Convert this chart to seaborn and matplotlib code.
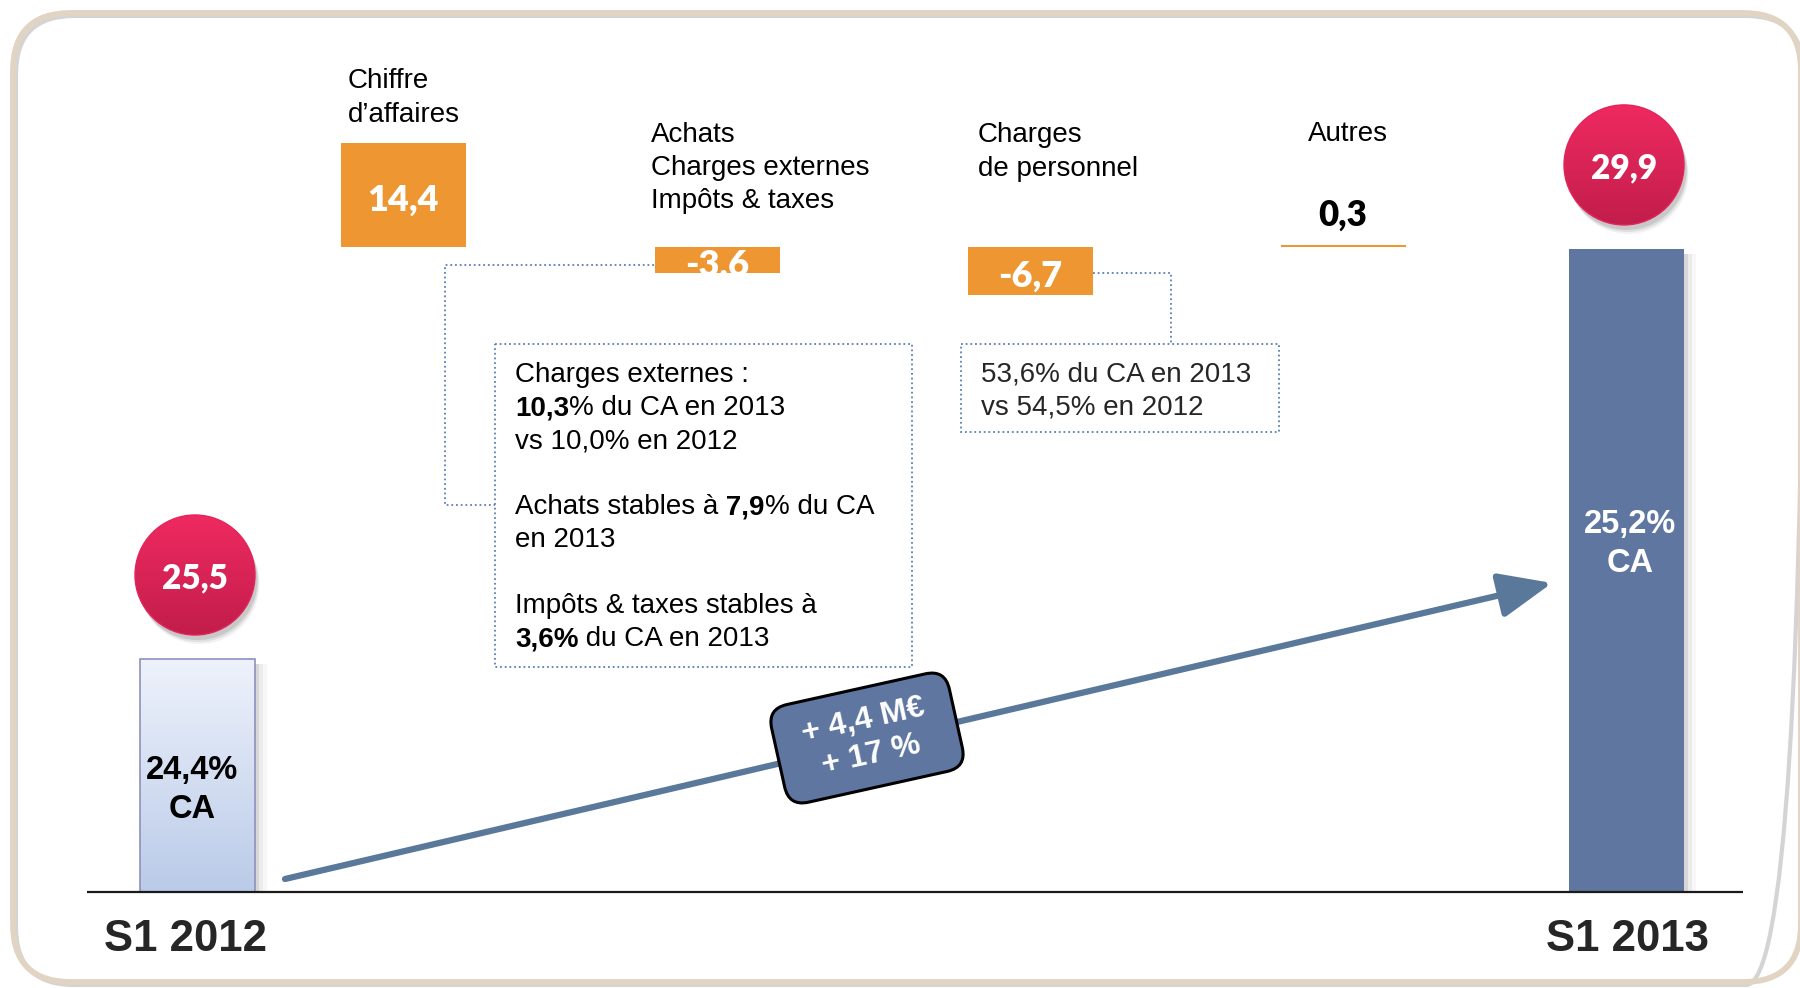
import numpy as np
import pandas as pd
import matplotlib
matplotlib.use("Agg")
import matplotlib.pyplot as plt
import seaborn as sns
from matplotlib.patches import FancyBboxPatch, Circle, Rectangle
from matplotlib.colors import LinearSegmentedColormap
from matplotlib.transforms import Affine2D

# ---------------- data ----------------
periods = ["S1 2012", "S1 2013"]
ebitda = [25.5, 29.9]
ebitda_margin = ["24,4%\nCA", "25,2%\nCA"]
bridge_labels = ["Chiffre\nd’affaires", "Achats\nCharges externes\nImpôts & taxes",
                 "Charges\nde personnel", "Autres"]
bridge_values = [14.4, -3.6, -6.7, 0.3]
growth_text = ["+ 4,4 M€", "+ 17 %"]
note_external = [
    [("Charges externes :", False)],
    [("10,3", True), ("% du CA en 2013", False)],
    [("vs 10,0% en 2012", False)],
    [],
    [("Achats stables à", False), (" 7,9", True), ("% du CA", False)],
    [("en 2013", False)],
    [],
    [("Impôts & taxes stables à", False)],
    [("3,6%", True), (" du CA en 2013", False)],
]
note_staff = ["53,6% du CA en 2013", "vs 54,5% en 2012"]


def fr(v):
    return f"{v:.1f}".replace(".", ",")


# ---------------- layout ----------------
W, H = 1800, 988
BASE_PX = 892          # baseline of the S1 bars (pixels from top)
TOT_FLOOR = 23.0       # truncated value axis for the S1 bars
TOT_SCALE = 93.2       # px per M€ for S1 bars
VAR_ZERO_PX = 247      # level from which bridge bars hang
VAR_SCALE = 7.2        # px per M€ for bridge bars
tot_x = [197, 1626]
var_x = [403, 717, 1030, 1343]

ORANGE = "#EE9632"
SLATE = "#5F77A0"
ARROW = "#5A7899"
DOT = "#5A7FB6"
SANS = ["Liberation Sans", "DejaVu Sans"]
NUM = ["Lato", "DejaVu Sans"]
TXT = 20

sns.set_theme(style="white")
plt.rcParams["font.family"] = SANS

fig = plt.figure(figsize=(W / 100, H / 100), dpi=100)
fig.patch.set_facecolor("white")


def px_axes(z):
    ax = fig.add_axes([0, 0, 1, 1], zorder=z)
    ax.set_xlim(0, W)
    ax.set_ylim(H, 0)
    ax.axis("off")
    return ax


# background frame (beige border with a soft grey bevel)
ax_bg = px_axes(0)
ax_bg.add_patch(FancyBboxPatch((16, 16), 1788, 969, boxstyle="round,pad=0,rounding_size=58",
                               fc="none", ec="#D4D4D4", lw=3.0))
ax_bg.add_patch(FancyBboxPatch((13, 13), 1788, 969, boxstyle="round,pad=0,rounding_size=58",
                               fc="none", ec="#E1D4C3", lw=4.2))

# ---------------- S1 totals ----------------
ax_tot = fig.add_axes([0, (H - BASE_PX) / H, 1, BASE_PX / H], zorder=1)
df_tot = pd.DataFrame({"pos": tot_x, "value": ebitda, "period": periods})
sns.barplot(data=df_tot, x="pos", y="value", hue="period", palette=["#D5DFF1", SLATE],
            native_scale=True, width=115 / (tot_x[1] - tot_x[0]), dodge=False,
            saturation=1, errorbar=None, legend=False, linewidth=0, ax=ax_tot)
ymax_tot = TOT_FLOOR + BASE_PX / TOT_SCALE
light_cmap = LinearSegmentedColormap.from_list("light", ["#EEF2FB", "#BACBE8"])
for p in list(ax_tot.patches):
    x0, w, h = p.get_x(), p.get_width(), p.get_height()
    # soft shadow on the right
    for k, a in zip([4, 8, 12], [0.16, 0.09, 0.05]):
        ax_tot.add_patch(Rectangle((x0 + w, TOT_FLOOR), k, h - TOT_FLOOR - 0.05,
                                   fc="#707070", ec="none", alpha=a, zorder=0.5))
    if abs(x0 + w / 2 - tot_x[0]) < 30:
        im = ax_tot.imshow(np.linspace(0, 1, 256).reshape(-1, 1), cmap=light_cmap,
                           extent=[x0, x0 + w, TOT_FLOOR, h], aspect="auto",
                           zorder=p.get_zorder() + 0.1, interpolation="bilinear")
        im.set_clip_path(p)
        ax_tot.add_patch(Rectangle((x0, TOT_FLOOR), w, h - TOT_FLOOR, fc="none",
                                   ec="#8F90BC", lw=1.2, zorder=p.get_zorder() + 0.2))
ax_tot.set_xlim(0, W)
ax_tot.set_ylim(TOT_FLOOR, ymax_tot)
ax_tot.axis("off")

# ---------------- bridge bars ----------------
ax_var = fig.add_axes([0, 0, 1, 1], zorder=2)
sns.barplot(x=var_x, y=bridge_values, native_scale=True, width=125 / 313, color=ORANGE,
            saturation=1, errorbar=None, linewidth=0, ax=ax_var)
for x, v in zip(var_x, bridge_values):
    if abs(v) >= 1:
        ax_var.annotate(fr(v), xy=(x, v / 2), xytext=(0, -4), textcoords="offset points",
                        ha="center", va="center", color="white", fontsize=26,
                        fontweight="heavy", family=NUM)
    else:
        ax_var.annotate(fr(v), xy=(x, v), xytext=(0, 21), textcoords="offset points",
                        ha="center", va="center", color="black", fontsize=25,
                        fontweight="heavy", family=NUM)
ax_var.set_xlim(0, W)
ax_var.set_ylim(-(H - VAR_ZERO_PX) / VAR_SCALE, VAR_ZERO_PX / VAR_SCALE)
ax_var.axis("off")

# ---------------- foreground annotations ----------------
ax = px_axes(3)
renderer = fig.canvas.get_renderer()

label_pos = [(348, 98), (651, 168), (978, 152), (1308, 134)]
for (lx, ly), lab in zip(label_pos, bridge_labels):
    ax.text(lx, ly, lab, ha="left", va="center", fontsize=TXT, linespacing=1.37, color="black")

# baseline
ax.plot([87, 1743], [BASE_PX, BASE_PX], color="#1A1A1A", lw=1.6, solid_capstyle="butt")

# period labels
for px_, lab in zip([186, 1628], periods):
    ax.text(px_, 939, lab, ha="center", va="center", fontsize=31.5, fontweight="bold")

# margin labels
ax.text(192, 790, ebitda_margin[0], ha="center", va="center", fontsize=23.5,
        fontweight="bold", color="black", linespacing=1.32)
ax.text(1630, 544, ebitda_margin[1], ha="center", va="center", fontsize=23.5,
        fontweight="bold", color="white", linespacing=1.32)

# circles with totals
red_cmap = LinearSegmentedColormap.from_list("red", ["#EF2A61", "#C21D4B"])
R = 60
for x, v in zip(tot_x, ebitda):
    _, dy = ax_tot.transData.transform((x, v))
    top = H - dy
    cx, cy = x - 2, top - 84
    for off, a in [(9, 0.05), (7, 0.08), (5, 0.10)]:
        ax.add_patch(Circle((cx + off * 0.5, cy + off), R, fc="#000000", ec="none", alpha=a, zorder=1))
    circ = Circle((cx, cy), R, fc="none", ec="#E3245A", lw=1, zorder=3)
    ax.add_patch(circ)
    im = ax.imshow(np.linspace(0, 1, 256).reshape(-1, 1), cmap=red_cmap,
                   extent=[cx - R, cx + R, cy + R, cy - R], aspect="auto", zorder=2,
                   interpolation="bilinear")
    im.set_clip_path(circ)
    ax.text(cx, cy + 3, fr(v), ha="center", va="center", color="white", fontsize=24,
            fontweight="heavy", family=NUM, zorder=4)
ax.set_xlim(0, W)
ax.set_ylim(H, 0)

# growth arrow
ax.annotate("", xy=(1552, 583), xytext=(285, 879),
            arrowprops=dict(arrowstyle="-|>,head_length=1.3,head_width=0.55", mutation_scale=25,
                            lw=4.5, color=ARROW, shrinkA=0, shrinkB=0), zorder=2)
ang = 12.5
gx, gy = 867, 738
box = FancyBboxPatch((-91, -50), 182, 100, boxstyle="round,pad=0,rounding_size=20",
                     fc=SLATE, ec="black", lw=2.2, zorder=5)
box.set_transform(Affine2D().rotate_deg(-ang).translate(gx, gy) + ax.transData)
ax.add_patch(box)
ax.text(gx, gy, "\n".join(growth_text), rotation=ang, rotation_mode="anchor", ha="center",
        va="center", multialignment="center", color="white", fontweight="bold",
        fontsize=23, linespacing=1.25, zorder=6)

# note boxes and connectors
dot_style = (0, (1, 1.6))
ax.add_patch(Rectangle((495, 344), 417, 323, fc="white", ec=DOT, lw=1.3, ls=dot_style, zorder=2))
ax.add_patch(Rectangle((961, 344), 318, 88, fc="white", ec=DOT, lw=1.3, ls=dot_style, zorder=2))
ax.plot([654, 445, 445, 495], [265, 265, 505, 505], color=DOT, lw=1.3, ls=dot_style, zorder=2)
ax.plot([1093, 1171, 1171], [273, 273, 344], color=DOT, lw=1.3, ls=dot_style, zorder=2)


def rich_line(x, y, parts, size=TXT):
    cur = x
    for txt, bold in parts:
        t = ax.text(cur, y, txt, fontsize=size, fontweight="bold" if bold else "normal",
                    ha="left", va="center", color="black", zorder=4)
        cur += t.get_window_extent(renderer).width


for i, parts in enumerate(note_external):
    rich_line(515, 375 + i * 33, parts)
for i, line in enumerate(note_staff):
    ax.text(981, 374 + i * 33, line, fontsize=TXT, ha="left", va="center", zorder=4)

fig.savefig("out.png", dpi=100)
